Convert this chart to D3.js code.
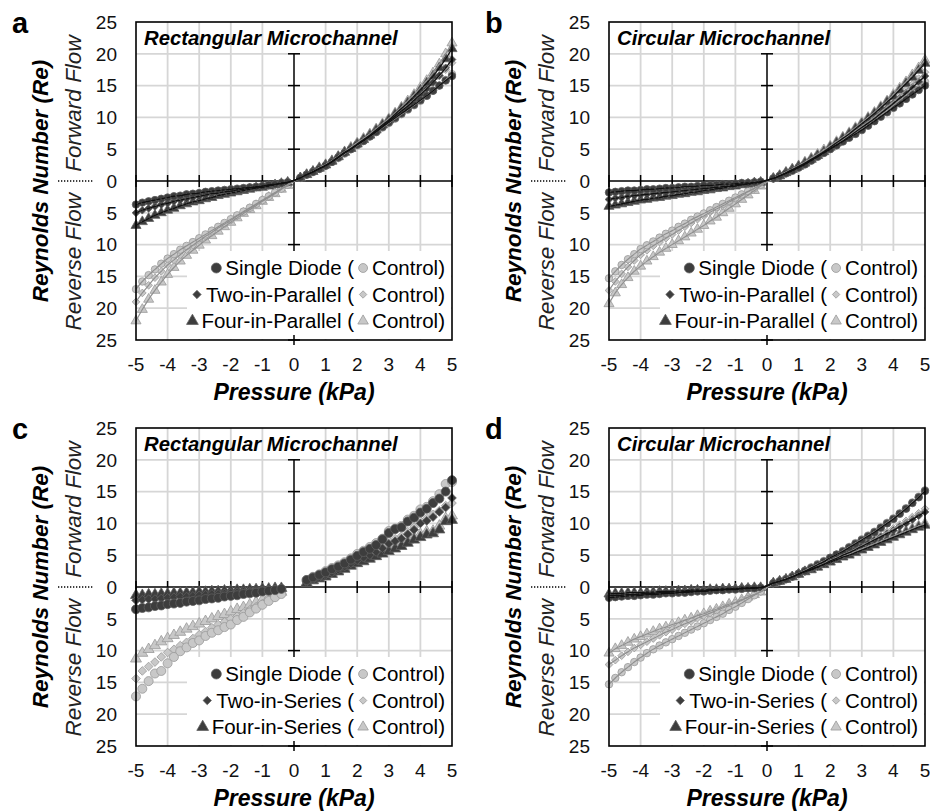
<!DOCTYPE html>
<html><head><meta charset="utf-8">
<script src="https://cdn.jsdelivr.net/npm/d3@7"></script>
<style>body{margin:0;background:#fff} svg{display:block} text{font-family:Arial,"Liberation Sans",sans-serif}</style>
</head><body><svg id="chart" width="930" height="811"></svg>
<script>
// Pressure (kPa) sample points
const pressure = [-5,-4.8,-4.6,-4.4,-4.2,-4,-3.8,-3.6,-3.4,-3.2,-3,-2.8,-2.6,-2.4,-2.2,-2,-1.8,-1.6,-1.4,-1.2,-1,-0.8,-0.6,-0.4,-0.2,
  0.2,0.4,0.6,0.8,1,1.2,1.4,1.6,1.8,2,2.2,2.4,2.6,2.8,3,3.2,3.4,3.6,3.8,4,4.2,4.4,4.6,4.8,5];

// Panel a (Rectangular, parallel)
const aDiodeCircle = [-3.7,-3.4,-3.2,-3.0,-2.8,-2.6,-2.4,-2.3,-2.1,-2.0,-1.9,-1.7,-1.6,-1.5,-1.4,-1.3,-1.2,-1.1,-1.0,-0.9,-0.8,-0.6,-0.5,-0.3,-0.2,
  0.5,1.0,1.4,1.9,2.4,3.0,3.7,4.4,5.0,5.7,6.3,7.0,7.7,8.5,9.2,9.9,10.6,11.3,12.0,12.7,13.4,14.2,15.0,15.8,16.5];
const aDiodeDiamond = [-5.0,-4.6,-4.3,-4.0,-3.7,-3.5,-3.2,-3.0,-2.8,-2.6,-2.4,-2.2,-2.0,-1.9,-1.7,-1.6,-1.4,-1.3,-1.1,-1.0,-0.8,-0.7,-0.5,-0.4,-0.2,
  0.5,1.0,1.4,1.9,2.4,3.0,3.7,4.4,5.0,5.7,6.4,7.1,7.8,8.6,9.4,10.2,11.0,11.8,12.7,13.6,14.5,15.5,16.6,17.8,19.1];
const aDiodeTriangle = [-7.0,-6.4,-5.9,-5.4,-5.0,-4.6,-4.3,-3.9,-3.6,-3.3,-3.1,-2.8,-2.6,-2.3,-2.1,-1.9,-1.7,-1.5,-1.3,-1.1,-1.0,-0.8,-0.6,-0.4,-0.2,
  0.5,1.0,1.5,2.0,2.5,3.1,3.8,4.5,5.1,5.8,6.5,7.2,8.0,8.8,9.6,10.5,11.4,12.3,13.3,14.3,15.4,16.5,17.8,19.2,20.8];
const aCtrlCircle = [-17.0,-15.8,-14.8,-13.9,-13.0,-12.2,-11.5,-10.8,-10.2,-9.6,-9.0,-8.4,-7.8,-7.2,-6.6,-6.0,-5.4,-4.8,-4.2,-3.6,-3.0,-2.4,-1.8,-1.2,-0.6,
  0.5,1.0,1.5,1.9,2.4,3.0,3.6,4.3,5.0,5.6,6.3,7.0,7.7,8.4,9.1,9.8,10.5,11.2,11.9,12.6,13.4,14.2,15.0,15.9,16.8];
const aCtrlDiamond = [-19.0,-17.6,-16.4,-15.2,-14.2,-13.2,-12.4,-11.6,-10.8,-10.1,-9.4,-8.7,-8.1,-7.4,-6.8,-6.2,-5.5,-4.9,-4.3,-3.7,-3.1,-2.5,-1.9,-1.2,-0.6,
  0.5,1.0,1.5,2.0,2.5,3.1,3.7,4.4,5.1,5.8,6.5,7.2,7.9,8.7,9.5,10.3,11.1,11.9,12.8,13.7,14.6,15.5,16.5,17.5,18.6];
const aCtrlTriangle = [-22.0,-20.2,-18.6,-17.2,-15.9,-14.7,-13.6,-12.6,-11.7,-10.9,-10.1,-9.3,-8.6,-7.9,-7.2,-6.5,-5.8,-5.1,-4.5,-3.9,-3.2,-2.6,-2.0,-1.3,-0.7,
  0.5,1.0,1.5,2.1,2.6,3.2,3.9,4.6,5.3,6.0,6.7,7.4,8.2,9.0,9.8,10.7,11.6,12.6,13.6,14.7,15.8,17.0,18.4,20.0,21.7];

// Panel b (Circular, parallel)
const bDiodeCircle = [-1.8,-1.7,-1.6,-1.5,-1.5,-1.4,-1.3,-1.3,-1.2,-1.1,-1.1,-1.0,-0.9,-0.9,-0.8,-0.7,-0.7,-0.6,-0.5,-0.5,-0.4,-0.3,-0.3,-0.2,-0.1,
  0.4,0.8,1.2,1.6,2.1,2.6,3.2,3.8,4.4,5.0,5.6,6.2,6.8,7.4,8.0,8.7,9.4,10.1,10.8,11.5,12.2,12.9,13.6,14.3,15.0];
const bDiodeDiamond = [-2.9,-2.7,-2.6,-2.4,-2.3,-2.2,-2.1,-2.0,-1.9,-1.8,-1.7,-1.6,-1.5,-1.4,-1.3,-1.2,-1.1,-1.0,-0.9,-0.8,-0.6,-0.5,-0.4,-0.3,-0.1,
  0.4,0.8,1.2,1.7,2.2,2.7,3.3,3.9,4.5,5.1,5.7,6.3,7.0,7.7,8.4,9.1,9.8,10.6,11.4,12.2,13.0,13.8,14.7,15.6,16.5];
const bDiodeTriangle = [-4.0,-3.8,-3.6,-3.4,-3.2,-3.0,-2.9,-2.7,-2.6,-2.4,-2.3,-2.1,-2.0,-1.8,-1.7,-1.5,-1.4,-1.2,-1.1,-0.9,-0.8,-0.6,-0.5,-0.3,-0.2,
  0.4,0.8,1.3,1.8,2.3,2.8,3.4,4.0,4.6,5.3,6.0,6.7,7.4,8.2,9.0,9.8,10.6,11.5,12.4,13.3,14.3,15.3,16.3,17.4,18.5];
const bCtrlCircle = [-15.3,-14.2,-13.2,-12.3,-11.5,-10.7,-10.1,-9.5,-8.9,-8.3,-7.8,-7.2,-6.7,-6.1,-5.6,-5.1,-4.6,-4.1,-3.6,-3.1,-2.6,-2.1,-1.6,-1.1,-0.6,
  0.4,0.8,1.2,1.7,2.2,2.7,3.3,3.9,4.5,5.1,5.7,6.3,6.9,7.6,8.3,9.0,9.7,10.4,11.1,11.9,12.7,13.5,14.3,15.0,15.6];
const bCtrlDiamond = [-17.2,-15.8,-14.6,-13.5,-12.5,-11.6,-10.9,-10.2,-9.6,-9.0,-8.4,-7.8,-7.2,-6.6,-6.0,-5.5,-4.9,-4.4,-3.9,-3.3,-2.8,-2.3,-1.7,-1.2,-0.6,
  0.4,0.8,1.3,1.8,2.3,2.8,3.4,4.0,4.6,5.2,5.8,6.5,7.2,7.9,8.6,9.3,10.1,10.9,11.7,12.5,13.4,14.3,15.2,16.1,17.1];
const bCtrlTriangle = [-19.3,-17.6,-16.3,-15.2,-14.2,-13.4,-12.6,-11.9,-11.2,-10.6,-10.0,-9.4,-8.8,-8.2,-7.6,-7.0,-6.3,-5.7,-5.0,-4.3,-3.6,-2.9,-2.2,-1.5,-0.8,
  0.4,0.9,1.4,1.9,2.4,3.0,3.6,4.2,4.9,5.5,6.2,6.9,7.6,8.4,9.2,10.0,10.8,11.7,12.6,13.6,14.6,15.6,16.7,17.8,19.0];

// Panel c (Rectangular, series)
const cDiodeCircle = [-3.5,-3.3,-3.2,-3.0,-2.9,-2.7,-2.6,-2.5,-2.3,-2.2,-2.1,-1.9,-1.8,-1.7,-1.5,-1.4,-1.3,-1.1,-1.0,-0.9,-0.7,-0.6,-0.5,-0.3,null,
  null,1.1,1.5,1.9,2.3,2.8,3.2,3.7,4.3,4.9,5.5,6.0,6.6,7.5,8.5,9.1,9.4,10.3,10.9,11.7,12.3,13.2,13.9,15.0,16.8];
const cDiodeDiamond = [-2.1,-2.0,-1.9,-1.9,-1.8,-1.7,-1.6,-1.5,-1.5,-1.4,-1.3,-1.2,-1.1,-1.1,-1.0,-0.9,-0.8,-0.7,-0.7,-0.6,-0.5,-0.4,-0.3,-0.2,null,
  null,0.8,1.2,1.5,1.9,2.3,2.7,3.2,3.7,4.2,4.6,5.0,5.5,6.1,6.8,7.2,7.6,8.3,9.0,10.0,10.4,11.0,11.8,12.5,14.0];
const cDiodeTriangle = [-1.3,-1.3,-1.2,-1.2,-1.1,-1.1,-1.0,-1.0,-0.9,-0.9,-0.8,-0.8,-0.7,-0.7,-0.6,-0.6,-0.5,-0.5,-0.4,-0.4,-0.3,-0.3,-0.2,-0.2,null,
  null,0.6,1.0,1.3,1.6,2.0,2.4,2.8,3.3,3.7,4.0,4.4,4.8,5.2,5.6,6.0,6.4,6.9,7.4,7.8,8.2,8.4,9.0,10.3,10.5];
const cCtrlCircle = [-17.2,-16.0,-14.8,-13.6,-13.2,-12.0,-11.0,-10.1,-9.5,-8.8,-8.4,-7.7,-7.2,-6.8,-6.3,-5.9,-5.2,-4.7,-4.0,-3.4,-2.8,-2.2,-1.6,-1.1,null,
  null,1.1,1.6,2.0,2.5,3.0,3.4,3.9,4.5,5.2,5.7,6.3,6.9,7.6,8.8,9.2,9.6,10.6,11.2,12.2,12.6,13.5,14.6,16.2,16.5];
const cCtrlDiamond = [-14.4,-13.2,-12.5,-11.8,-11.0,-10.3,-9.8,-9.2,-8.7,-8.1,-7.5,-7.0,-6.4,-5.9,-5.5,-5.0,-4.6,-4.1,-3.6,-3.1,-2.6,-2.1,-1.6,-1.0,null,
  null,0.9,1.3,1.7,2.1,2.5,2.9,3.4,3.9,4.4,4.9,5.3,5.8,6.4,7.3,7.6,8.0,8.7,9.4,10.4,10.8,11.4,12.0,12.8,13.2];
const cCtrlTriangle = [-11.3,-10.4,-9.8,-9.2,-8.6,-8.1,-7.6,-7.1,-6.6,-6.2,-5.8,-5.4,-5.0,-4.6,-4.3,-3.9,-3.5,-3.2,-2.8,-2.4,-2.0,-1.6,-1.2,-0.8,null,
  null,0.7,1.1,1.4,1.8,2.2,2.6,3.0,3.5,4.0,4.3,4.7,5.1,5.5,6.0,6.3,6.8,7.3,7.8,8.3,8.7,8.8,9.6,10.8,11.2];

// Panel d (Circular, series)
const dDiodeCircle = [-1.7,-1.6,-1.5,-1.4,-1.4,-1.3,-1.2,-1.2,-1.1,-1.0,-1.0,-0.9,-0.9,-0.8,-0.7,-0.7,-0.6,-0.5,-0.5,-0.4,-0.4,-0.3,-0.2,-0.2,-0.1,
  0.6,0.9,1.2,1.6,2.1,2.5,3.0,3.5,4.0,4.6,5.1,5.6,6.2,6.8,7.4,8.0,8.6,9.3,10.0,10.7,11.5,12.3,13.2,14.1,15.1];
const dDiodeDiamond = [-1.4,-1.3,-1.3,-1.2,-1.2,-1.1,-1.0,-1.0,-0.9,-0.9,-0.8,-0.8,-0.7,-0.7,-0.6,-0.6,-0.5,-0.5,-0.4,-0.3,-0.3,-0.2,-0.2,-0.1,-0.1,
  0.6,0.9,1.2,1.6,2.0,2.4,2.8,3.2,3.6,4.1,4.5,5.0,5.4,5.9,6.4,6.9,7.4,7.9,8.4,8.9,9.5,10.0,10.6,11.2,11.8];
const dDiodeTriangle = [-1.1,-1.0,-1.0,-0.9,-0.9,-0.9,-0.8,-0.8,-0.7,-0.7,-0.7,-0.6,-0.6,-0.5,-0.5,-0.5,-0.4,-0.4,-0.3,-0.3,-0.3,-0.2,-0.2,-0.1,-0.1,
  0.6,0.9,1.2,1.6,2.0,2.4,2.7,3.1,3.5,3.9,4.3,4.7,5.0,5.4,5.8,6.2,6.6,7.0,7.4,7.8,8.2,8.6,9.0,9.4,9.7];
const dCtrlCircle = [-15.3,-14.3,-13.4,-12.6,-11.8,-11.1,-10.4,-9.8,-9.2,-8.7,-8.2,-7.7,-7.2,-6.7,-6.2,-5.7,-5.2,-4.7,-4.2,-3.6,-3.1,-2.5,-1.9,-1.3,-0.7,
  0.6,0.9,1.3,1.7,2.1,2.6,3.1,3.6,4.1,4.6,5.1,5.7,6.3,6.9,7.5,8.1,8.7,9.4,10.1,10.8,11.6,12.4,13.3,14.2,15.2];
const dCtrlDiamond = [-12.2,-11.5,-10.8,-10.2,-9.6,-9.1,-8.6,-8.1,-7.6,-7.1,-6.7,-6.2,-5.8,-5.4,-4.9,-4.5,-4.1,-3.7,-3.3,-2.9,-2.5,-2.1,-1.6,-1.2,-0.7,
  0.6,0.9,1.3,1.7,2.1,2.5,2.9,3.3,3.7,4.2,4.6,5.1,5.5,6.0,6.5,7.0,7.6,8.1,8.7,9.2,9.8,10.4,11.0,11.6,12.3];
const dCtrlTriangle = [-10.4,-9.7,-9.2,-8.7,-8.2,-7.8,-7.4,-7.0,-6.6,-6.3,-5.9,-5.6,-5.2,-4.9,-4.5,-4.2,-3.8,-3.5,-3.1,-2.7,-2.4,-2.0,-1.6,-1.2,-0.8,
  0.6,0.9,1.2,1.6,2.0,2.4,2.8,3.2,3.6,4.0,4.4,4.8,5.2,5.6,6.0,6.4,6.8,7.2,7.6,8.0,8.4,8.8,9.2,9.6,10.0];

const xTicks = [-5,-4,-3,-2,-1,0,1,2,3,4,5];
const yTicks = [-25,-20,-15,-10,-5,0,5,10,15,20,25];
const panelLetters = ['a','b','c','d'];
const panelTitles = ['Rectangular Microchannel','Circular Microchannel','Rectangular Microchannel','Circular Microchannel'];
const legendParallel = ['Single Diode','Two-in-Parallel','Four-in-Parallel'];
const legendSeries = ['Single Diode','Two-in-Series','Four-in-Series'];

const panels = [
  {diode:[aDiodeCircle,aDiodeDiamond,aDiodeTriangle], ctrl:[aCtrlCircle,aCtrlDiamond,aCtrlTriangle], names:legendParallel, trend:true},
  {diode:[bDiodeCircle,bDiodeDiamond,bDiodeTriangle], ctrl:[bCtrlCircle,bCtrlDiamond,bCtrlTriangle], names:legendParallel, trend:true},
  {diode:[cDiodeCircle,cDiodeDiamond,cDiodeTriangle], ctrl:[cCtrlCircle,cCtrlDiamond,cCtrlTriangle], names:legendSeries, trend:false},
  {diode:[dDiodeCircle,dDiodeDiamond,dDiodeTriangle], ctrl:[dCtrlCircle,dCtrlDiamond,dCtrlTriangle], names:legendSeries, trend:true}
];

const svg = d3.select('#chart');
const origins = [[0,0],[473,0],[0,406],[473,406]];
const symTypes = [d3.symbolCircle, d3.symbolDiamond2 || d3.symbolDiamond, d3.symbolTriangle];
const DARK = '#3d3d3d', DARK_S = '#5e5e5e', LIGHT = '#c8c8c8', LIGHT_S = '#999';

panels.forEach((p, i) => {
  const [ox, oy] = origins[i];
  const L = 136 + ox, R = 452 + ox, T = 22 + oy, B = 340 + oy;
  const g = svg.append('g');
  const x = d3.scaleLinear().domain([-5,5]).range([L,R]);
  const y = d3.scaleLinear().domain([-25,25]).range([B,T]);
  const big = !p.trend;
  const sizes = big ? [64,48,52] : [44,38,44];

  // grid
  g.append('g').selectAll('line').data(xTicks.filter(v=>v!==-5&&v!==5&&v!==0)).join('line')
    .attr('x1',d=>x(d)).attr('x2',d=>x(d)).attr('y1',T).attr('y2',B)
    .attr('stroke','#d6d6d6').attr('stroke-width',1.8);
  g.append('g').selectAll('line').data(yTicks.filter(v=>Math.abs(v)!==25&&v!==0)).join('line')
    .attr('y1',d=>y(d)).attr('y2',d=>y(d)).attr('x1',L).attr('x2',R)
    .attr('stroke','#d6d6d6').attr('stroke-width',1.8);

  // central axes with crossing ticks
  g.append('line').attr('x1',L).attr('x2',R).attr('y1',y(0)).attr('y2',y(0)).attr('stroke','#000').attr('stroke-width',1.5);
  g.append('line').attr('x1',x(0)).attr('x2',x(0)).attr('y1',y(20)).attr('y2',B).attr('stroke','#000').attr('stroke-width',1.5);
  g.append('g').selectAll('line').data(xTicks.filter(v=>v!==0)).join('line')
    .attr('x1',d=>x(d)).attr('x2',d=>x(d)).attr('y1',y(0)-6).attr('y2',y(0)+6)
    .attr('stroke','#000').attr('stroke-width',1.5);
  g.append('g').selectAll('line').data(yTicks.filter(v=>v!==0&&v!==25)).join('line')
    .attr('y1',d=>y(d)).attr('y2',d=>y(d)).attr('x1',x(0)-6).attr('x2',x(0)+6)
    .attr('stroke','#000').attr('stroke-width',1.5);

  // legend background
  g.append('rect').attr('x',R-265).attr('y',T+229).attr('width',264).attr('height',B-T-230).attr('fill','#fff');
  g.append('line').attr('x1',x(0)).attr('x2',x(0)).attr('y1',B-5).attr('y2',B+5).attr('stroke','#000').attr('stroke-width',1.5);

  // data
  const seriesData = arr => pressure.map((v,j)=>({x:v,y:arr[j]})).filter(d=>d.y!==null);
  const line = d3.line().x(d=>x(d.x)).y(d=>y(d.y)).curve(d3.curveMonotoneX);
  const order = [2,1,0];
  order.forEach(k => {
    g.append('g').selectAll('path').data(seriesData(p.ctrl[k])).join('path')
      .attr('d', d3.symbol().type(symTypes[k]).size(sizes[k]))
      .attr('transform', d=>`translate(${x(d.x)},${y(d.y)})`)
      .attr('fill',LIGHT).attr('stroke',LIGHT_S).attr('stroke-width',0.8);
  });
  order.forEach(k => {
    g.append('g').selectAll('path').data(seriesData(p.diode[k])).join('path')
      .attr('d', d3.symbol().type(symTypes[k]).size(sizes[k]))
      .attr('transform', d=>`translate(${x(d.x)},${y(d.y)})`)
      .attr('fill',DARK).attr('stroke',DARK_S).attr('stroke-width',0.8);
  });
  if (p.trend) {
    [0,1,2].forEach(k => {
      g.append('path').attr('d',line(seriesData(p.ctrl[k]))).attr('fill','none')
        .attr('stroke','#fff').attr('stroke-width',1).attr('stroke-dasharray','2,3');
      g.append('path').attr('d',line(seriesData(p.diode[k]))).attr('fill','none')
        .attr('stroke','#fff').attr('stroke-width',1).attr('stroke-dasharray','2,3');
    });
    [0,1,2].forEach(k => {
      g.append('path').attr('d',line(seriesData(p.ctrl[k]))).attr('fill','none')
        .attr('stroke','#8f8f8f').attr('stroke-width',1.2);
    });
    [0,1,2].forEach(k => {
      g.append('path').attr('d',line(seriesData(p.diode[k]))).attr('fill','none')
        .attr('stroke','#111').attr('stroke-width',1.3);
    });
  }

  // box
  g.append('rect').attr('x',L).attr('y',T).attr('width',R-L).attr('height',B-T)
    .attr('fill','none').attr('stroke','#000').attr('stroke-width',1.6);

  // tick labels
  g.append('g').selectAll('text').data(xTicks).join('text')
    .attr('x',d=>x(d)).attr('y',B+31).attr('text-anchor','middle')
    .attr('font-size',19).attr('fill','#111').text(d=>d);
  g.append('g').selectAll('text').data(yTicks).join('text')
    .attr('x',L-19).attr('y',d=>y(d)).attr('dy','0.36em').attr('text-anchor','end')
    .attr('font-size',19).attr('fill','#111').text(d=>Math.abs(d));

  // axis titles
  g.append('text').attr('x',(L+R)/2).attr('y',B+60).attr('text-anchor','middle')
    .attr('font-size',23).attr('font-weight','bold').attr('font-style','italic').text('Pressure (kPa)');
  g.append('text').attr('transform',`translate(${48+ox},${y(0)}) rotate(-90)`).attr('text-anchor','middle')
    .attr('font-size',22.5).attr('font-weight','bold').attr('font-style','italic').text('Reynolds Number (Re)');
  g.append('text').attr('transform',`translate(${81+ox},${y(12.5)+2}) rotate(-90)`).attr('text-anchor','middle')
    .attr('font-size',22.5).attr('font-style','italic').attr('fill','#222').text('Forward Flow');
  g.append('text').attr('transform',`translate(${81+ox},${y(-12.7)}) rotate(-90)`).attr('text-anchor','middle')
    .attr('font-size',22.5).attr('font-style','italic').attr('fill','#222').text('Reverse Flow');
  g.append('line').attr('x1',58+ox).attr('x2',93+ox).attr('y1',y(0)).attr('y2',y(0))
    .attr('stroke','#000').attr('stroke-width',1.3).attr('stroke-dasharray','1.3,1.7');

  // panel letter & title
  g.append('text').attr('x',12+ox).attr('y',33+oy).attr('font-size',29).attr('font-weight','bold').text(panelLetters[i]);
  g.append('text').attr('x',L+8).attr('y',T+23).attr('font-size',20.3).attr('font-weight','bold').attr('font-style','italic').text(panelTitles[i]);

  // legend
  const rowsY = [T+246, T+272.5, T+299];
  const lsz = [78,44,60];
  p.names.forEach((name,k) => {
    const cy = rowsY[k];
    const t2 = g.append('text').attr('x',R-7).attr('y',cy).attr('dy','0.35em').attr('text-anchor','end')
      .attr('font-size',20.5).text('Control)');
    const w2 = t2.node().getComputedTextLength();
    const mx2 = R-7-w2-9;
    g.append('path').attr('d',d3.symbol().type(symTypes[k]).size(lsz[k]*0.8)())
      .attr('transform',`translate(${mx2},${cy})`).attr('fill',LIGHT).attr('stroke',LIGHT_S).attr('stroke-width',0.8);
    const t1 = g.append('text').attr('x',mx2-9).attr('y',cy).attr('dy','0.35em').attr('text-anchor','end')
      .attr('font-size',20.5).text(name+' (');
    const w1 = t1.node().getComputedTextLength();
    g.append('path').attr('d',d3.symbol().type(symTypes[k]).size(lsz[k])())
      .attr('transform',`translate(${mx2-9-w1-9},${cy})`).attr('fill',DARK).attr('stroke',DARK_S).attr('stroke-width',0.8);
  });
});
</script></body></html>
